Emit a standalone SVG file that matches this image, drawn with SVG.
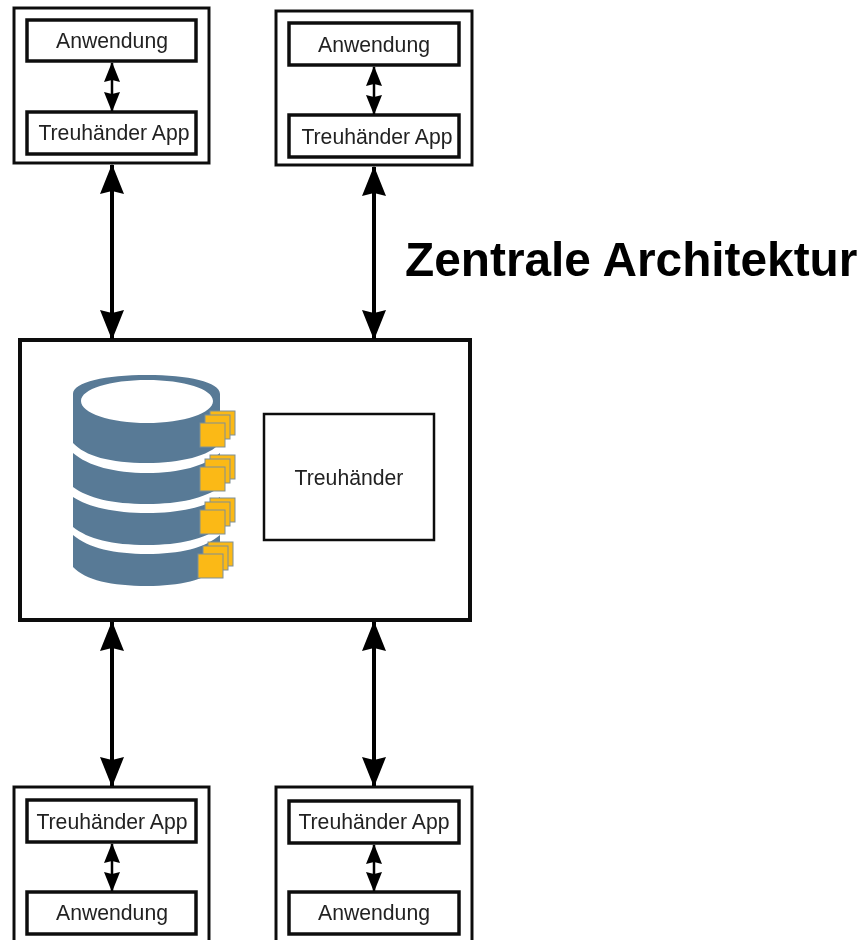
<svg xmlns="http://www.w3.org/2000/svg" xmlns:xlink="http://www.w3.org/1999/xlink" width="863" height="940" viewBox="0 0 863 940">
<style>
.box{fill:#fff;stroke:#111;stroke-width:3}
.inner{fill:#fff;stroke:#111;stroke-width:3.5}
.lbl{font-family:"Liberation Sans",Arial,sans-serif;font-size:21.2px;fill:#222;text-anchor:middle}
.big{stroke:#000;stroke-width:4;fill:none;marker-start:url(#ah);marker-end:url(#ah)}
.small{stroke:#000;stroke-width:2.5;fill:none;marker-start:url(#as);marker-end:url(#as)}
.db{fill:#587a96}
.sq{fill:#fbb918;stroke:#7f8f96;stroke-width:1}
</style>
<defs>
<marker id="ah" markerUnits="userSpaceOnUse" viewBox="0 0 30 24" refX="29" refY="12" markerWidth="30" markerHeight="24" orient="auto-start-reverse"><path d="M0 0L30 12L0 24L3 12Z" fill="#000"/></marker>
<marker id="as" markerUnits="userSpaceOnUse" viewBox="0 0 20 16" refX="19" refY="8" markerWidth="20" markerHeight="16" orient="auto-start-reverse"><path d="M0 0L20 8L0 16L2 8Z" fill="#000"/></marker>
<filter id="soft" x="-2%" y="-2%" width="104%" height="104%"><feGaussianBlur stdDeviation="0.6"/></filter>
<g id="stack"><rect class="sq" x="210" y="-12" width="25" height="24"/><rect class="sq" x="205" y="-8" width="25" height="24"/><rect class="sq" x="200" y="0" width="25" height="24"/></g>
</defs>
<rect width="863" height="940" fill="#fff"/>
<g filter="url(#soft)">
<g id="node-top-left">
<rect class="box" x="14" y="8" width="195" height="155"/>
<rect class="inner" x="27" y="20" width="169" height="41"/>
<text class="lbl" x="112" y="48">Anwendung</text>
<rect class="inner" x="27" y="112" width="169" height="42"/>
<text class="lbl" x="114" y="140">Treuhänder App</text>
</g>
<g id="node-top-right">
<rect class="box" x="276" y="11" width="196" height="154"/>
<rect class="inner" x="289" y="23" width="170" height="42"/>
<text class="lbl" x="374" y="52">Anwendung</text>
<rect class="inner" x="289" y="115" width="170" height="42"/>
<text class="lbl" x="377" y="144">Treuhänder App</text>
</g>
<g id="node-center">
<rect x="20" y="340" width="450" height="280" fill="#fff" stroke="#111" stroke-width="4"/>
<g id="database">
<path class="db" fill-rule="evenodd" d="M73 394C73 382 106 375 147 375C188 375 220 382 220 394V443C210 456 180 463 147 463C110 463 85 456 73 443ZM81 401C81 413 110 423 147 423C184 423 213 413 213 401C213 389 184 380 147 380C110 380 81 389 81 401Z"/>
<path class="db" d="M73 453C88 466 115 473 147 473C180 473 205 466 220 453V487C205 498 180 504 147 504C112 504 88 498 73 487Z"/>
<path class="db" d="M73 497C88 507 115 513 147 513C180 513 205 507 220 497V527C205 539 180 545 147 545C112 545 88 539 73 527Z"/>
<path class="db" d="M73 535C88 548 115 554 147 554C180 554 205 548 220 535V567C205 580 180 586 147 586C112 586 85 580 73 567Z"/>
<use xlink:href="#stack" href="#stack" y="423"/>
<use xlink:href="#stack" href="#stack" y="467"/>
<use xlink:href="#stack" href="#stack" y="510"/>
<use xlink:href="#stack" href="#stack" x="-2" y="554"/>
</g>
<rect x="264" y="414" width="170" height="126" fill="#fff" stroke="#111" stroke-width="2.5"/>
<text class="lbl" x="349" y="485">Treuhänder</text>
</g>
<g id="node-bottom-left">
<rect class="box" x="14" y="787" width="195" height="170"/>
<rect class="inner" x="27" y="800" width="169" height="42"/>
<text class="lbl" x="112" y="829">Treuhänder App</text>
<rect class="inner" x="27" y="892" width="169" height="42"/>
<text class="lbl" x="112" y="920">Anwendung</text>
</g>
<g id="node-bottom-right">
<rect class="box" x="276" y="787" width="196" height="170"/>
<rect class="inner" x="289" y="801" width="170" height="42"/>
<text class="lbl" x="374" y="829">Treuhänder App</text>
<rect class="inner" x="289" y="892" width="170" height="42"/>
<text class="lbl" x="374" y="920">Anwendung</text>
</g>
<g id="connectors">
<path class="big" d="M112 165V339"/>
<path class="big" d="M374 167V339"/>
<path class="big" d="M112 622V786"/>
<path class="big" d="M374 622V786"/>
<path class="small" d="M112 63V111"/>
<path class="small" d="M374 67V114"/>
<path class="small" d="M112 844V891"/>
<path class="small" d="M374 845V891"/>
</g>
</g>
<text id="title" x="405" y="276" font-family="'Liberation Sans',Arial,sans-serif" font-size="47.8" font-weight="700" fill="#000">Zentrale Architektur</text>
</svg>
